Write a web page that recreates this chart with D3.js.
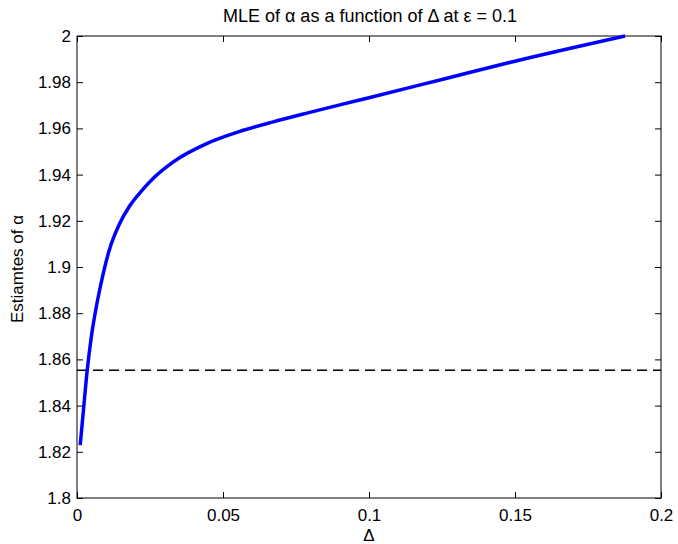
<!DOCTYPE html>
<html>
<head>
<meta charset="utf-8">
<script src="https://cdn.jsdelivr.net/npm/d3@7"></script>
<style>
  body { margin: 0; background: #fff; }
  text { font-family: "Liberation Sans", Arial, sans-serif; fill: #000; }
</style>
</head>
<body>
<svg id="chart" width="678" height="544"></svg>
<script>
// data
let deltas = [0.0011, 0.0022, 0.0035, 0.0049, 0.0064, 0.0081, 0.0111, 0.0145, 0.0179, 0.0225,
              0.0263, 0.033, 0.0444, 0.0558, 0.0672, 0.0787, 0.09, 0.1, 0.125, 0.15, 0.1877];
let alphas = [1.8229, 1.838, 1.8553, 1.8697, 1.8813, 1.8921, 1.9075, 1.9185, 1.9262, 1.9335,
              1.9386, 1.9455, 1.9534, 1.9587, 1.9628, 1.9666, 1.9702, 1.9733, 1.9812, 1.9891, 2.0];
let trueAlpha = 1.8553;
let xTicks = [0, 0.05, 0.1, 0.15, 0.2];
let yTicks = [1.8, 1.82, 1.84, 1.86, 1.88, 1.9, 1.92, 1.94, 1.96, 1.98, 2];

let margin = ({top: 36, right: 17, bottom: 46, left: 77});
let width = 678, height = 544;
const svg = d3.select("#chart");

let x = d3.scaleLinear().domain([0, 0.2]).range([margin.left, width - margin.right]);
let y = d3.scaleLinear().domain([1.8, 2]).range([height - margin.bottom, margin.top]);

const fmt = d => String(+d.toFixed(4));
const tickLen = 6;

// frame
svg.append("rect")
    .attr("x", x(0)).attr("y", y(2))
    .attr("width", x(0.2) - x(0)).attr("height", y(1.8) - y(2))
    .attr("fill", "#fff").attr("stroke", "#000").attr("stroke-width", 1);

// axes, ticks pointing inward (MATLAB box style)
svg.append("g").attr("transform", `translate(0,${y(1.8)})`)
    .call(d3.axisBottom(x).tickValues(xTicks).tickFormat(fmt).tickSizeInner(-tickLen).tickSizeOuter(0).tickPadding(11))
    .call(g => g.select(".domain").remove());
svg.append("g").attr("transform", `translate(0,${y(2)})`)
    .call(d3.axisTop(x).tickValues(xTicks).tickFormat("").tickSizeInner(-tickLen).tickSizeOuter(0))
    .call(g => g.select(".domain").remove());
svg.append("g").attr("transform", `translate(${x(0)},0)`)
    .call(d3.axisLeft(y).tickValues(yTicks).tickFormat(fmt).tickSizeInner(-tickLen).tickSizeOuter(0).tickPadding(6))
    .call(g => g.select(".domain").remove());
svg.append("g").attr("transform", `translate(${x(0.2)},0)`)
    .call(d3.axisRight(y).tickValues(yTicks).tickFormat("").tickSizeInner(-tickLen).tickSizeOuter(0))
    .call(g => g.select(".domain").remove());

svg.selectAll(".tick text").style("font-size", "17px").style("font-family", '"Liberation Sans", Arial, sans-serif');
svg.selectAll(".tick line").attr("stroke", "#000");

// dashed reference line
svg.append("line")
    .attr("x1", x(0)).attr("x2", x(0.2))
    .attr("y1", y(trueAlpha)).attr("y2", y(trueAlpha))
    .attr("stroke", "#000").attr("stroke-width", 1.5)
    .attr("stroke-dasharray", "10,6");

// estimate curve
let line = d3.line()
    .x((d, i) => x(deltas[i]))
    .y(d => y(d))
    .curve(d3.curveMonotoneX);
svg.append("path").datum(alphas)
    .attr("d", line)
    .attr("fill", "none")
    .attr("stroke", "#0000ff")
    .attr("stroke-width", 3.5);

// labels
svg.append("text")
    .attr("x", (x(0) + x(0.2)) / 2 + 1).attr("y", 22)
    .attr("text-anchor", "middle").style("font-size", "18px")
    .text("MLE of α as a function of Δ at ε = 0.1");
svg.append("text")
    .attr("x", (x(0) + x(0.2)) / 2).attr("y", 541)
    .attr("text-anchor", "middle").style("font-size", "17px")
    .text("Δ");
svg.append("text")
    .attr("transform", `translate(23,${(y(1.8) + y(2)) / 2 + 2}) rotate(-90)`)
    .attr("text-anchor", "middle").style("font-size", "17px")
    .text("Estiamtes of α");
</script>
</body>
</html>
